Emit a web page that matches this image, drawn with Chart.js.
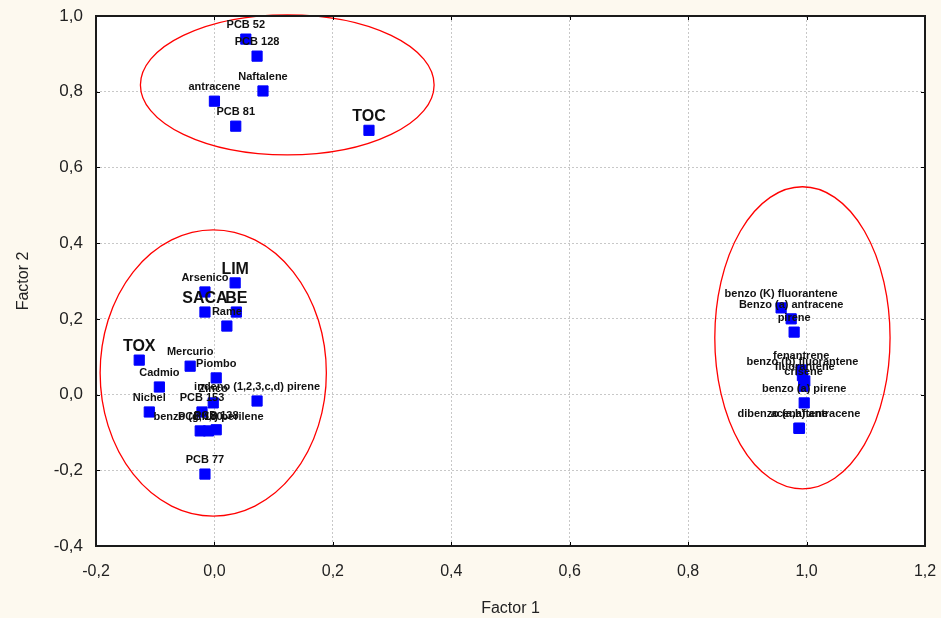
<!DOCTYPE html>
<html>
<head>
<meta charset="utf-8">
<script src="https://cdn.jsdelivr.net/npm/chart.js@4.4.1/dist/chart.umd.min.js"></script>
<style>
  html, body { margin: 0; padding: 0; background: #fdf9ef; }
  #wrap { width: 941px; height: 618px; }
</style>
</head>
<body>
<div id="wrap"><canvas id="factorChart" width="941" height="618"></canvas></div>
<script>
// variable names and factor loadings (Factor 1, Factor 2)
const names = [
  'PCB 52', 'PCB 128', 'Naftalene', 'antracene', 'PCB 81', 'TOC',
  'LIM', 'Arsenico', 'SACA', 'BE', 'Rame',
  'TOX', 'Mercurio', 'Piombo', 'Cadmio', 'Nichel',
  'indeno (1,2,3,c,d) pirene', 'Zinco', 'PCB 153',
  'PCB 180', 'benzo (g,h,i) perilene', 'PCB 138', 'PCB 77',
  'benzo (K) fluorantene', 'Benzo (a) antracene', 'pirene',
  'fenantrene', 'benzo (b) fluorantene', 'fluorantene', 'crisene',
  'benzo (a) pirene', 'dibenzo (a,h) antracene', 'acenaftene'
];
const factor1 = [
  0.053, 0.072, 0.082, 0.000, 0.036, 0.261,
  0.035, -0.016, -0.016, 0.037, 0.021,
  -0.127, -0.041, 0.003, -0.093, -0.110,
  0.072, -0.002, -0.021,
  -0.024, -0.010, 0.003, -0.016,
  0.957, 0.974, 0.979,
  0.991, 0.993, 0.997, 0.995,
  0.996, 0.987, 0.988
];
const factor2 = [
  0.939, 0.894, 0.802, 0.775, 0.709, 0.698,
  0.295, 0.271, 0.218, 0.218, 0.181,
  0.091, 0.075, 0.044, 0.020, -0.046,
  -0.017, -0.022, -0.046,
  -0.096, -0.096, -0.093, -0.210,
  0.229, 0.200, 0.165,
  0.065, 0.050, 0.036, 0.022,
  -0.022, -0.089, -0.089
];
const bigLabels = ['TOC', 'LIM', 'SACA', 'BE', 'TOX'];

// groups circled on the plot: centre and radii in factor units
const groupCx = [0.123, -0.002, 0.993];
const groupCy = [0.818, 0.057, 0.150];
const groupRx = [0.248, 0.191, 0.148];
const groupRy = [0.185, 0.378, 0.399];

const xTicks = [-0.2, 0, 0.2, 0.4, 0.6, 0.8, 1.0, 1.2];
const yTicks = [-0.4, -0.2, 0, 0.2, 0.4, 0.6, 0.8, 1.0];

const points = names.map((n, i) => ({ x: factor1[i], y: factor2[i], name: n }));
const fmt = v => (Math.round(v * 10) / 10).toFixed(1).replace('.', ',');

const plotBg = {
  id: 'plotBg',
  beforeDraw(chart) {
    const { ctx, chartArea: a } = chart;
    ctx.save();
    ctx.fillStyle = '#ffffff';
    ctx.fillRect(a.left, a.top, a.right - a.left, a.bottom - a.top);
    ctx.restore();
  }
};

const ellipses = {
  id: 'ellipses',
  afterDatasetsDraw(chart) {
    const { ctx, scales: { x, y } } = chart;
    ctx.save();
    ctx.strokeStyle = '#ff0000';
    ctx.lineWidth = 1.3;
    for (let i = 0; i < groupCx.length; i++) {
      const cx = x.getPixelForValue(groupCx[i]);
      const cy = y.getPixelForValue(groupCy[i]);
      const rx = Math.abs(x.getPixelForValue(groupCx[i] + groupRx[i]) - cx);
      const ry = Math.abs(y.getPixelForValue(groupCy[i] + groupRy[i]) - cy);
      ctx.beginPath();
      ctx.ellipse(cx, cy, rx, ry, 0, 0, Math.PI * 2);
      ctx.stroke();
    }
    ctx.restore();
  }
};

const pointLabels = {
  id: 'pointLabels',
  afterDatasetsDraw(chart) {
    const { ctx } = chart;
    const meta = chart.getDatasetMeta(0);
    ctx.save();
    ctx.fillStyle = '#111';
    ctx.textAlign = 'center';
    ctx.textBaseline = 'alphabetic';
    meta.data.forEach((el, i) => {
      const big = bigLabels.includes(names[i]);
      ctx.font = big ? 'bold 16px "Liberation Sans", Arial, sans-serif'
                     : 'bold 11px "Liberation Sans", Arial, sans-serif';
      ctx.fillText(names[i], el.x, el.y - (big ? 9 : 11));
    });
    ctx.restore();
  }
};

const frame = {
  id: 'frame',
  afterDraw(chart) {
    const { ctx, chartArea: a, scales: { x, y } } = chart;
    ctx.save();
    ctx.strokeStyle = '#000';
    ctx.lineWidth = 1;
    ctx.beginPath();
    xTicks.forEach(v => {
      const px = Math.round(x.getPixelForValue(v)) + 0.5;
      ctx.moveTo(px, a.bottom); ctx.lineTo(px, a.bottom - 4);
      ctx.moveTo(px, a.top); ctx.lineTo(px, a.top + 4);
    });
    yTicks.forEach(v => {
      const py = Math.round(y.getPixelForValue(v)) + 0.5;
      ctx.moveTo(a.left, py); ctx.lineTo(a.left + 4, py);
      ctx.moveTo(a.right, py); ctx.lineTo(a.right - 4, py);
    });
    ctx.stroke();
    ctx.lineWidth = 2;
    ctx.strokeStyle = '#1a1a1a';
    ctx.strokeRect(a.left, a.top, a.right - a.left, a.bottom - a.top);
    ctx.restore();
  }
};

new Chart(document.getElementById('factorChart'), {
  type: 'scatter',
  data: {
    datasets: [{
      data: points,
      pointStyle: 'rect',
      pointRadius: 7.2,
      pointHoverRadius: 7.2,
      backgroundColor: '#0000ff',
      borderColor: '#0000ff',
      borderWidth: 1
    }]
  },
  options: {
    responsive: false,
    animation: false,
    layout: { padding: { top: 16, right: 16, left: 0, bottom: 0 } },
    plugins: { legend: { display: false }, tooltip: { enabled: false } },
    scales: {
      x: {
        type: 'linear',
        min: -0.2, max: 1.2,
        afterBuildTicks: s => { s.ticks = xTicks.map(v => ({ value: v })); },
        afterFit: s => { s.height = 72; s.paddingLeft = 0; s.paddingRight = 0; },
        grid: { color: '#c8c8c8', lineWidth: 1, drawTicks: false },
        border: { display: false, dash: [2, 2] },
        ticks: {
          color: '#222', padding: 16,
          font: { family: '"Liberation Sans", Arial, sans-serif', size: 16 },
          callback: v => fmt(v)
        },
        title: {
          display: true, text: 'Factor 1', color: '#222', padding: { top: 12, bottom: 0 },
          font: { family: '"Liberation Sans", Arial, sans-serif', size: 16 }
        }
      },
      y: {
        type: 'linear',
        min: -0.4, max: 1.0,
        afterBuildTicks: s => { s.ticks = yTicks.map(v => ({ value: v })); },
        afterFit: s => { s.width = 96; s.paddingTop = 0; s.paddingBottom = 0; },
        grid: { color: '#c8c8c8', lineWidth: 1, drawTicks: false },
        border: { display: false, dash: [2, 2] },
        ticks: {
          color: '#222', padding: 13,
          font: { family: '"Liberation Sans", Arial, sans-serif', size: 17 },
          callback: v => fmt(v)
        },
        title: {
          display: true, text: 'Factor 2', color: '#222', padding: { top: 14, bottom: 0 },
          font: { family: '"Liberation Sans", Arial, sans-serif', size: 16 }
        }
      }
    }
  },
  plugins: [plotBg, ellipses, pointLabels, frame]
});
</script>
</body>
</html>
